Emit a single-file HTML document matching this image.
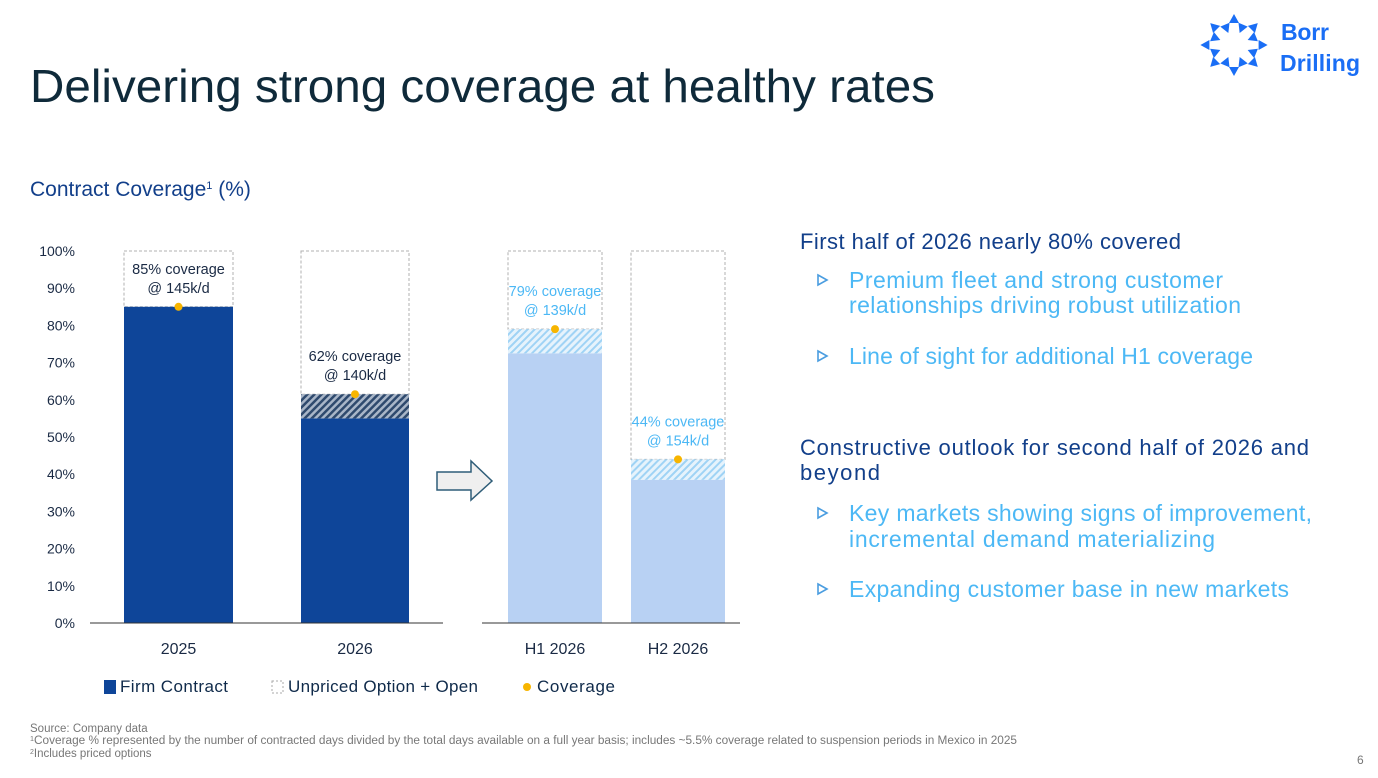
<!DOCTYPE html>
<html><head><meta charset="utf-8"><style>
body{margin:0;background:#fff;}
svg{display:block;font-family:"Liberation Sans",sans-serif;}
</style></head><body>
<svg width="1378" height="778" viewBox="0 0 1378 778">
<defs>
<pattern id="hd" width="5" height="5" patternUnits="userSpaceOnUse" patternTransform="rotate(45)"><rect width="5" height="5" fill="#a9b6c8"/><rect width="2.5" height="5" fill="#2f4a6e"/></pattern>
<pattern id="hl" width="5" height="5" patternUnits="userSpaceOnUse" patternTransform="rotate(45)"><rect width="5" height="5" fill="#e6f3fc"/><rect width="2" height="5" fill="#9fd3f5"/></pattern>
</defs>
<text x="30" y="102" font-size="46" fill="#0f2a3a" textLength="905" lengthAdjust="spacingAndGlyphs">Delivering strong coverage at healthy rates</text>
<g fill="#1a6ef5">
<g id="logo-marks"></g>
<text x="1281" y="40" font-size="23" font-weight="bold" textLength="48">Borr</text>
<text x="1280" y="71" font-size="23" font-weight="bold" textLength="80">Drilling</text>
</g>
<text x="30" y="196" font-size="21" fill="#123f8a">Contract Coverage<tspan font-size="11" dy="-7">1</tspan><tspan dy="7"> (%)</tspan></text>
<g id="chart"></g>
<path d="M437,472 H471 V461 L492,481 L471,500 V490 H437 Z" fill="#efefef" stroke="#2f5d78" stroke-width="1.5"/>
<g font-size="17" fill="#0f2a4a">
<rect x="104" y="680" width="12" height="14" fill="#0e4599"/>
<text x="120" y="692" textLength="108">Firm Contract</text>
<rect x="272" y="681" width="11" height="12" fill="none" stroke="#aaa" stroke-dasharray="2,2"/>
<text x="288" y="692" textLength="190">Unpriced Option + Open</text>
<circle cx="527" cy="687" r="4" fill="#f7b500"/>
<text x="537" y="692" textLength="78">Coverage</text>
</g>
<g font-size="11.5" fill="#777">
<text x="30" y="732">Source: Company data</text>
<text x="30" y="744" textLength="987" lengthAdjust="spacingAndGlyphs"><tspan font-size="7" dy="-3">1</tspan><tspan dy="3">Coverage % represented by the number of contracted days divided by the total days available on a full year basis; includes ~5.5% coverage related to suspension periods in Mexico in 2025</tspan></text>
<text x="30" y="757"><tspan font-size="7" dy="-3">2</tspan><tspan dy="3">Includes priced options</tspan></text>
<text x="1357" y="764" font-size="12">6</text>
</g>
<g font-size="23">
<text x="800" y="249" font-size="22" fill="#123f8a" textLength="381">First half of 2026 nearly 80% covered</text>
<text x="849" y="288" fill="#4cb8f5" textLength="374">Premium fleet and strong customer</text>
<text x="849" y="313" fill="#4cb8f5" textLength="392">relationships driving robust utilization</text>
<text x="849" y="364" fill="#4cb8f5" textLength="404">Line of sight for additional H1 coverage</text>
<text x="800" y="455" font-size="22" fill="#123f8a" textLength="509">Constructive outlook for second half of 2026 and</text>
<text x="800" y="480" font-size="22" fill="#123f8a" textLength="80">beyond</text>
<text x="849" y="521" fill="#4cb8f5" textLength="463">Key markets showing signs of improvement,</text>
<text x="849" y="547" fill="#4cb8f5" textLength="366">incremental demand materializing</text>
<text x="849" y="597" fill="#4cb8f5" textLength="440">Expanding customer base in new markets</text>
<g fill="none" stroke="#4a9de0" stroke-width="1.6">
<path d="M818,275 L827,280 L818,285 Z"/><path d="M818,351 L827,356 L818,361 Z"/>
<path d="M818,508 L827,513 L818,518 Z"/><path d="M818,584 L827,589 L818,594 Z"/>
</g>
</g>
</svg>
<script>
const categories=["2025","2026","H1 2026","H2 2026"];
const firmValues=[85,55,72.5,38.5];
const pricedValues=[0,6.5,6.5,5.5];
const coverageValues=[85,61.5,79,44];
const labelLines1=["85% coverage","62% coverage","79% coverage","44% coverage"];
const labelLines2=["@ 145k/d","@ 140k/d","@ 139k/d","@ 154k/d"];
const yTicks=[0,10,20,30,40,50,60,70,80,90,100];
const NS="http://www.w3.org/2000/svg";
const g=document.getElementById("chart");
const y=v=>623-v*3.72;
const barX=[124,301,508,631], barW=[109,108,94,94];
function el(t,a){const e=document.createElementNS(NS,t);for(const k in a)e.setAttribute(k,a[k]);g.appendChild(e);return e;}
yTicks.forEach(v=>{const t=el("text",{x:75,y:y(v)+5,"font-size":14,fill:"#1a2a44","text-anchor":"end"});t.textContent=v+"%";

});
categories.forEach((c,i)=>{
 const x=barX[i],w=barW[i],light=i>=2;
 const ob=el("rect",{x:x,y:y(100),width:w,height:y(coverageValues[i])-y(100),fill:"#fff",stroke:"#b0b0b0","stroke-dasharray":"3,2"});
 
 
 const fb=el("rect",{x:x,y:y(firmValues[i]),width:w,height:y(0)-y(firmValues[i]),fill:light?"#b8d1f3":"#0e4599"});
 
 
 if(pricedValues[i]>0){const hb=el("rect",{x:x,y:y(firmValues[i]+pricedValues[i]),width:w,height:y(firmValues[i])-y(firmValues[i]+pricedValues[i]),fill:light?"url(#hl)":"url(#hd)"});
 
 }
 const col=light?"#4cb8f5":"#1a2a44";
 const cy=y(coverageValues[i]);
 const t1=el("text",{x:x+w/2,y:cy-33,"font-size":14.5,fill:col,"text-anchor":"middle"});t1.textContent=labelLines1[i];
 
 
 const t2=el("text",{x:x+w/2,y:cy-14,"font-size":14.5,fill:col,"text-anchor":"middle"});t2.textContent=labelLines2[i];
 
 
 const d=el("circle",{cx:x+w/2,cy:cy,r:4,fill:"#f7b500"});
 
 
 const xl=el("text",{x:x+w/2,y:654,"font-size":16,fill:"#1a2a44","text-anchor":"middle"});xl.textContent=c;
 
 
});
const a1=el("line",{x1:90,x2:443,y1:623,y2:623,stroke:"#333"});


const a2=el("line",{x1:482,x2:740,y1:623,y2:623,stroke:"#333"});


const lg=document.getElementById("logo-marks");
for(let k=0;k<16;k++){const ang=k*Math.PI*2/16, r=k%2?18:26;const cx=1234+Math.cos(ang)*r*1.1, cy=45+Math.sin(ang)*r;
 const p=document.createElementNS(NS,"path");p.setAttribute("d",`M${cx-4},${cy-5} L${cx+5},${cy} L${cx-4},${cy+5} Z`);
 p.setAttribute("transform",`rotate(${(k%2?180:0)+ang*57.3} ${cx} ${cy})`);lg.appendChild(p);}
</script>
</body></html>
